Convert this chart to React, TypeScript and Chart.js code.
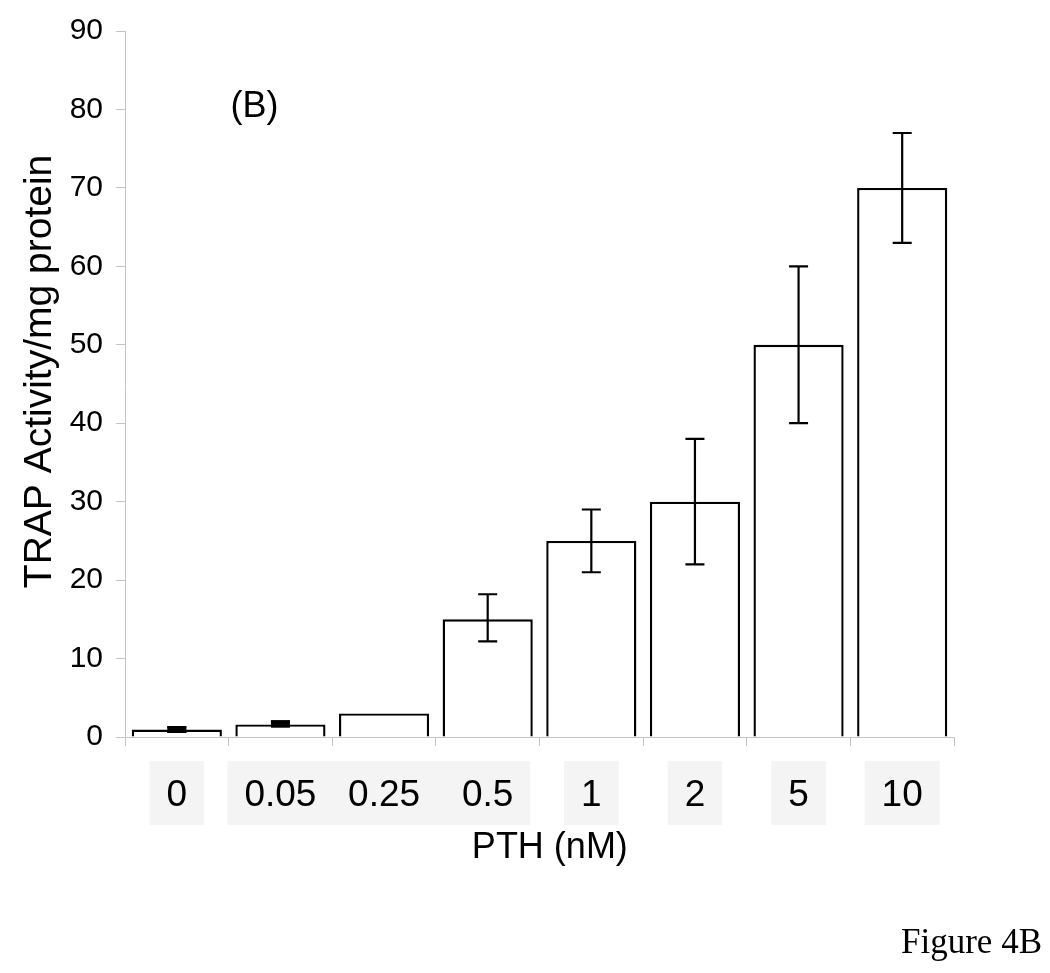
import React, { useEffect, useRef } from "react";
import { Chart, registerables } from "chart.js";

Chart.register(...registerables);

const categories = ["0", "0.05", "0.25", "0.5", "1", "2", "5", "10"];
const trapActivity = [0.95, 1.6, 3.0, 15, 25, 30, 50, 70];
const errorLow = [0.65, 1.35, 3.0, 12.2, 21, 22, 40, 63];
const errorHigh = [1.25, 2.0, 3.0, 18.2, 29, 38, 60, 77];

const yTitle = "TRAP Activity/mg protein";
const xTitle = "PTH (nM)";
const panelLabel = "(B)";
const figureLabel = "Figure 4B";

const SANS = "'Liberation Sans', Arial, Helvetica, sans-serif";
const SERIF = "'Liberation Serif', 'Times New Roman', serif";
const AXIS_GRAY = "#c4c4c4";

const labelBoxPlugin = {
  id: "labelBoxes",
  beforeDraw(chart: any) {
    const x = chart.scales.x;
    const ctx = chart.ctx;
    const area = chart.chartArea;
    ctx.save();
    ctx.font = `37px ${SANS}`;
    const boxes: { l: number; r: number }[] = [];
    categories.forEach((c, i) => {
      const cx = x.getPixelForTick(i);
      const w = Math.max(54, ctx.measureText(c).width + 34);
      boxes.push({ l: cx - w / 2, r: cx + w / 2 });
    });
    for (let i = 1; i < boxes.length; i++) {
      const gap = boxes[i].l - boxes[i - 1].r;
      if (gap > 0 && gap < 16) {
        boxes[i].l = boxes[i - 1].r - 2;
      }
    }
    ctx.fillStyle = "#f4f4f4";
    boxes.forEach((b) => {
      ctx.fillRect(b.l, area.bottom + 24, b.r - b.l, 64);
    });
    ctx.restore();
  },
};

const errorBarPlugin = {
  id: "errorBars",
  afterDatasetsDraw(chart: any) {
    const x = chart.scales.x;
    const y = chart.scales.y;
    const ctx = chart.ctx;
    ctx.save();
    ctx.strokeStyle = "#000";
    ctx.lineWidth = 2.2;
    const half = 9.5;
    categories.forEach((_, i) => {
      if (errorLow[i] === errorHigh[i]) return;
      const cx = x.getPixelForValue(i);
      const yl = y.getPixelForValue(errorLow[i]);
      const yh = y.getPixelForValue(errorHigh[i]);
      ctx.beginPath();
      ctx.moveTo(cx, yl);
      ctx.lineTo(cx, yh);
      ctx.moveTo(cx - half, yl);
      ctx.lineTo(cx + half, yl);
      ctx.moveTo(cx - half, yh);
      ctx.lineTo(cx + half, yh);
      ctx.stroke();
      if (yl - yh < 8) {
        ctx.fillStyle = "#000";
        ctx.fillRect(cx - half, yh - 1, half * 2, yl - yh + 2);
      }
    });
    ctx.restore();
  },
};

const textPlugin = {
  id: "extraText",
  afterDraw(chart: any) {
    const x = chart.scales.x;
    const y = chart.scales.y;
    const ctx = chart.ctx;
    ctx.save();
    ctx.fillStyle = "#000";
    ctx.font = `36px ${SANS}`;
    ctx.textAlign = "center";
    ctx.textBaseline = "middle";
    ctx.fillText(panelLabel, x.getPixelForValue(0.75), y.getPixelForValue(80.3));

    // x-axis title
    ctx.font = `36px ${SANS}`;
    ctx.textAlign = "center";
    ctx.textBaseline = "alphabetic";
    ctx.fillText(xTitle, x.getPixelForValue(3.6), 858);

    // y-axis title
    ctx.save();
    ctx.translate(51, y.getPixelForValue(46.6));
    ctx.rotate(-Math.PI / 2);
    ctx.font = `39px ${SANS}`;
    ctx.textAlign = "center";
    ctx.textBaseline = "alphabetic";
    ctx.fillText(yTitle, 0, 0);
    ctx.restore();

    ctx.font = `35px ${SERIF}`;
    ctx.textAlign = "right";
    ctx.textBaseline = "alphabetic";
    ctx.fillText(figureLabel, 1042, 953);
    ctx.restore();
  },
};

export default function App() {
  const canvasRef = useRef<HTMLCanvasElement>(null);

  useEffect(() => {
    const canvas = canvasRef.current;
    if (!canvas) return;
    const chart = new Chart(canvas, {
      type: "bar",
      data: {
        labels: categories,
        datasets: [
          {
            data: trapActivity,
            backgroundColor: "#ffffff",
            borderColor: "#000000",
            borderWidth: 2.4,
            categoryPercentage: 1,
            barPercentage: 0.87,
          },
        ],
      },
      options: {
        responsive: false,
        animation: false,
        devicePixelRatio: 1,
        layout: { padding: { top: 31, right: 96, bottom: 93, left: 0 } },
        plugins: {
          legend: { display: false },
          tooltip: { enabled: false },
          title: { display: false },
        },
        scales: {
          x: {
            type: "category",
            offset: true,
            grid: {
              display: true,
              offset: true,
              drawOnChartArea: false,
              drawTicks: true,
              tickLength: 9,
              color: AXIS_GRAY,
              lineWidth: 1,
            },
            border: { display: true, color: AXIS_GRAY, width: 1 },
            ticks: {
              color: "#000",
              font: { family: SANS, size: 37 },
              padding: 28,
              maxRotation: 0,
              minRotation: 0,
              autoSkip: false,
            },
            title: { display: false },
            afterFit(scale: any) {
              scale.height = 143;
            },
          },
          y: {
            min: 0,
            max: 90,
            ticks: {
              stepSize: 10,
              color: "#000",
              font: { family: SANS, size: 30 },
              padding: 13,
            },
            grid: {
              display: true,
              drawOnChartArea: false,
              drawTicks: true,
              tickLength: 9,
              color: AXIS_GRAY,
              lineWidth: 1,
            },
            border: { display: true, color: AXIS_GRAY, width: 1 },
            title: { display: false },
            afterFit(scale: any) {
              scale.width = 125;
            },
          },
        },
      },
      plugins: [labelBoxPlugin, errorBarPlugin, textPlugin],
    });
    return () => chart.destroy();
  }, []);

  return (
    <div style={{ position: "absolute", left: 0, top: 0, width: 1050, height: 973, background: "#fff" }}>
      <canvas ref={canvasRef} width={1050} height={973} style={{ display: "block" }} />
    </div>
  );
}
